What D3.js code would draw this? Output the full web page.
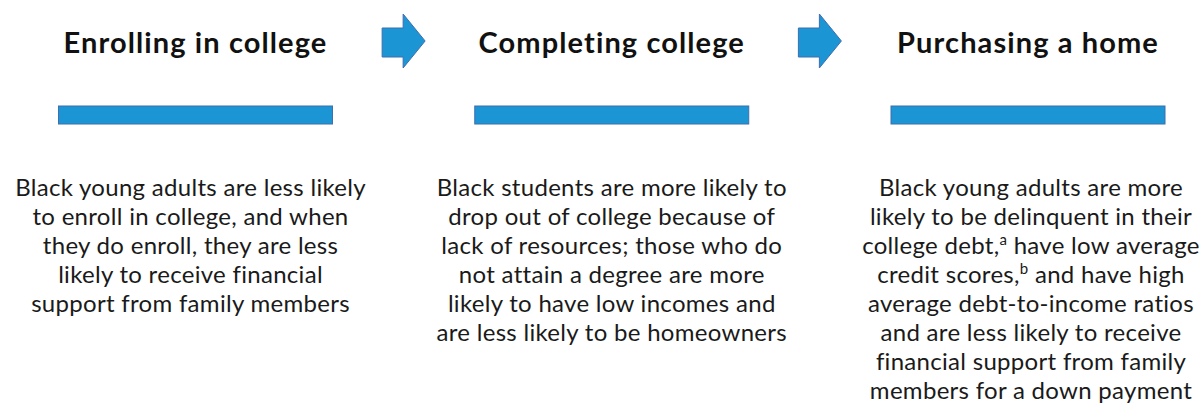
<!DOCTYPE html>
<html>
<head>
<meta charset="utf-8">
<script src="https://cdn.jsdelivr.net/npm/d3@7"></script>
<style>
  html, body { margin: 0; padding: 0; background: #ffffff; }
  svg { display: block; }
  text { font-variant-ligatures: none; font-feature-settings: "liga" 0, "clig" 0; }
</style>
</head>
<body>
<svg id="chart" width="1203" height="404"></svg>
<script>
// ---- content ----
const stages = ["Enrolling in college", "Completing college", "Purchasing a home"];
const bodyCol1 = [
  "Black young adults are less likely",
  "to enroll in college, and when",
  "they do enroll, they are less",
  "likely to receive financial",
  "support from family members"
];
const bodyCol2 = [
  "Black students are more likely to",
  "drop out of college because of",
  "lack of resources; those who do",
  "not attain a degree are more",
  "likely to have low incomes and",
  "are less likely to be homeowners"
];
// segments: [text, superscript?]
const bodyCol3 = [
  [["Black young adults are more", false]],
  [["likely to be delinquent in their", false]],
  [["college debt,", false], ["a", true], [" have low average", false]],
  [["credit scores,", false], ["b", true], [" and have high", false]],
  [["average debt-to-income ratios", false]],
  [["and are less likely to receive", false]],
  [["financial support from family", false]],
  [["members for a down payment", false]]
];

const bodies = [
  bodyCol1.map(t => [[t, false]]),
  bodyCol2.map(t => [[t, false]]),
  bodyCol3
];

// ---- layout ----
const blue = "#1b95d4", blueEdge = "#3f6fae", ink = "#111111";
const svg = d3.select("#chart");

const x = d3.scalePoint().domain(stages).range([195.5, 1028]);
const textShift = [-5, 0, 3];
const barW = 274, barH = 18, barY = 106;
const titleY = 53, bodyY0 = 195.5, lineH = 29;

const cols = svg.selectAll("g.col").data(stages).join("g").attr("class", "col")
  .attr("transform", d => `translate(${x(d)},0)`);

cols.append("text")
  .attr("x", 0).attr("y", titleY)
  .attr("text-anchor", "middle")
  .attr("font-family", "Lato, 'Open Sans', sans-serif")
  .attr("font-weight", 700)
  .attr("font-size", 29)
  .attr("letter-spacing", 1.1)
  .attr("fill", ink)
  .text(d => d);

cols.append("rect")
  .attr("x", -barW / 2).attr("y", barY)
  .attr("width", barW).attr("height", barH)
  .attr("fill", blue).attr("stroke", blueEdge).attr("stroke-width", 1);

cols.each(function(d, i) {
  const g = d3.select(this);
  const t = g.append("text")
    .attr("text-anchor", "middle")
    .attr("font-family", "Lato, 'Open Sans', sans-serif")
    .attr("font-size", 24)
    .attr("letter-spacing", 0.3)
    .attr("fill", "#1a1a1a");
  bodies[i].forEach((line, li) => {
    const ln = t.append("tspan")
      .attr("x", textShift[i])
      .attr("y", bodyY0 + li * lineH);
    let raised = false;
    line.forEach(([s, sup]) => {
      const ts = ln.append("tspan").text(s);
      if (sup) { ts.attr("font-size", 15).attr("dy", -9); raised = true; }
      else if (raised) { ts.attr("dy", 9); raised = false; }
    });
  });
});

// ---- arrows between stages ----
const arrowMid = d3.pairs(stages).map(([a, b]) => (x(a) + x(b)) / 2);
const arrowPath = cx => {
  const l = cx - 21.5, hx = cx - 0.5, r = cx + 21.5;
  const st = 28, sb = 57, ht = 14, hb = 68, cy = 41;
  return d3.line()([[l, st], [hx, st], [hx, ht], [r, cy], [hx, hb], [hx, sb], [l, sb]]) + "Z";
};
svg.selectAll("path.arrow").data(arrowMid).join("path").attr("class", "arrow")
  .attr("d", d => arrowPath(d))
  .attr("fill", blue).attr("stroke", blueEdge).attr("stroke-width", 1);
</script>
</body>
</html>
